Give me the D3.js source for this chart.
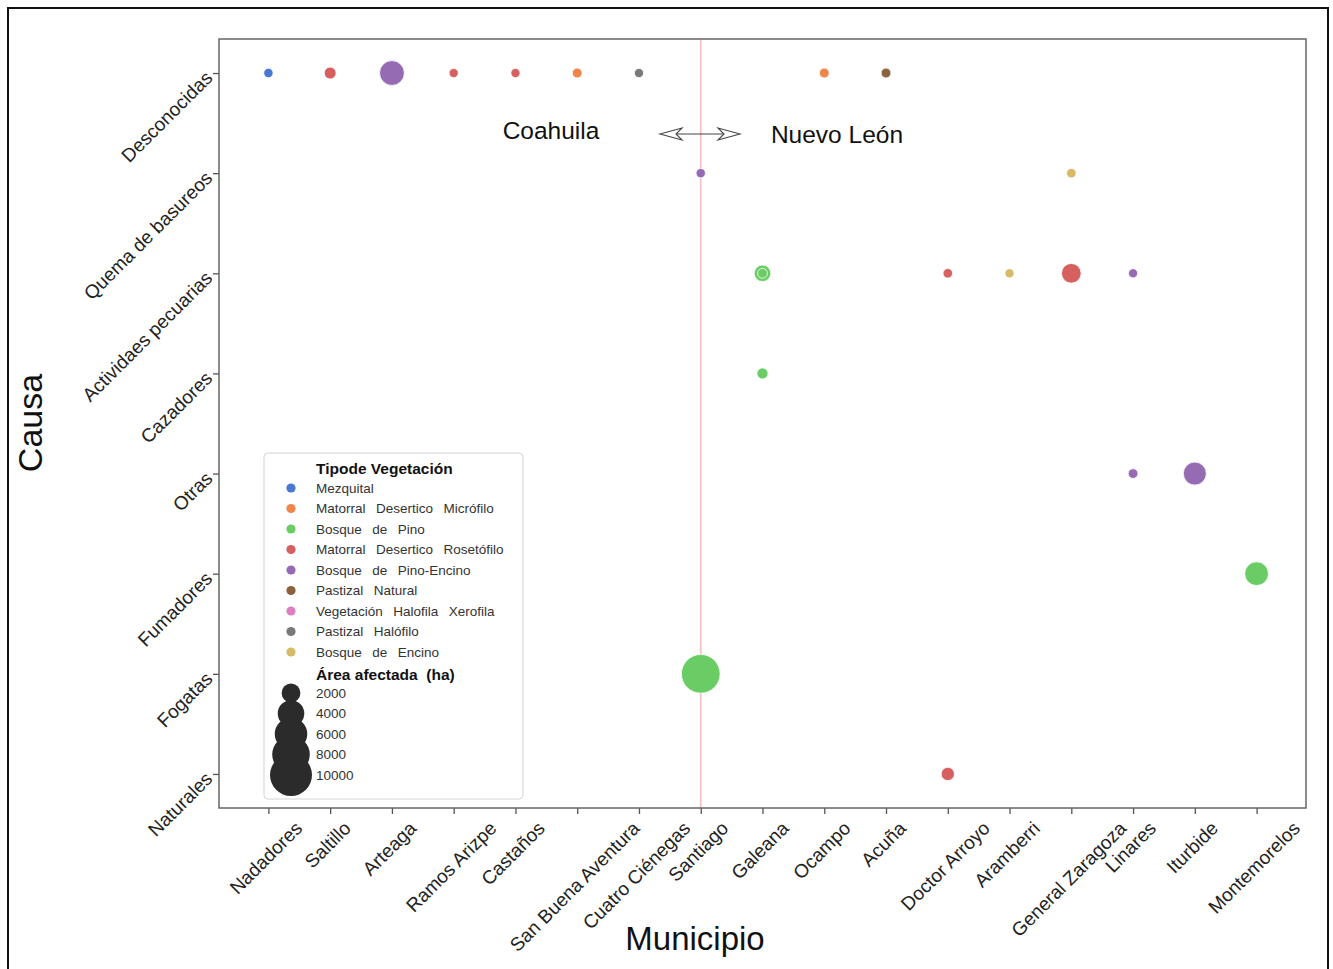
<!DOCTYPE html>
<html>
<head>
<meta charset="utf-8">
<script src="https://cdn.jsdelivr.net/npm/d3@7"></script>
<style>
  html, body { margin: 0; padding: 0; background: #fff; }
  svg text { font-family: "Liberation Sans", Arial, Helvetica, sans-serif; }
</style>
</head>
<body>
<svg id="chart" width="1333" height="969"></svg>
<script>
// ---------- DATA ----------
const municipios = ["Nadadores", "Saltillo", "Arteaga", "Ramos Arizpe", "Castaños", "San Buena Aventura",
  "Cuatro Ciénegas", "Santiago", "Galeana", "Ocampo", "Acuña", "Doctor Arroyo", "Aramberri",
  "General Zaragoza", "Linares", "Iturbide", "Montemorelos"];
const causas = ["Desconocidas", "Quema de basureos", "Actividaes pecuarias", "Cazadores", "Otras",
  "Fumadores", "Fogatas", "Naturales"];
const vegetacion = ["Mezquital", "Matorral  Desertico  Micrófilo", "Bosque  de  Pino",
  "Matorral  Desertico  Rosetófilo", "Bosque  de  Pino-Encino", "Pastizal  Natural",
  "Vegetación  Halofila  Xerofila", "Pastizal  Halófilo", "Bosque  de  Encino"];
const vegColors = ["#4878d0", "#ee854a", "#6acc64", "#d65f5f", "#956cb4", "#8c613c", "#dc7ec0", "#797979", "#d5bb67"];
const sizeLegend = [2000, 4000, 6000, 8000, 10000];

// each fire record: municipio, causa, vegetation index, area (ha)
const ptMunicipio = ["Nadadores", "Saltillo", "Arteaga", "Ramos Arizpe", "Castaños", "San Buena Aventura",
  "Cuatro Ciénegas", "Ocampo", "Acuña",
  "Santiago", "General Zaragoza",
  "Galeana", "Galeana", "Doctor Arroyo", "Aramberri", "General Zaragoza", "Linares",
  "Galeana",
  "Linares", "Iturbide",
  "Montemorelos",
  "Santiago",
  "Doctor Arroyo"];
const ptCausa = ["Desconocidas", "Desconocidas", "Desconocidas", "Desconocidas", "Desconocidas", "Desconocidas",
  "Desconocidas", "Desconocidas", "Desconocidas",
  "Quema de basureos", "Quema de basureos",
  "Actividaes pecuarias", "Actividaes pecuarias", "Actividaes pecuarias", "Actividaes pecuarias", "Actividaes pecuarias", "Actividaes pecuarias",
  "Cazadores",
  "Otras", "Otras",
  "Fumadores",
  "Fogatas",
  "Naturales"];
const ptVeg = [0, 3, 4, 3, 3, 1,
  7, 1, 5,
  4, 8,
  2, 2, 3, 8, 3, 4,
  2,
  4, 4,
  2,
  2,
  3];
const ptArea = [500, 800, 3500, 480, 480, 550,
  480, 550, 550,
  500, 520,
  1550, 550, 520, 480, 2200, 480,
  700,
  540, 3000,
  3200,
  8500,
  1000];

// ---------- LAYOUT ----------
const svg = d3.select("#chart");
const plot = { left: 219, right: 1306, top: 39, bottom: 808 };

// outer frame
svg.append("rect").attr("x", 8).attr("y", 8).attr("width", 1320).attr("height", 975)
  .attr("fill", "none").attr("stroke", "#111").attr("stroke-width", 2);

const x = d3.scalePoint().domain(municipios).range([plot.left, plot.right]).padding(0.8);
const y = d3.scalePoint().domain(causas).range([plot.top, plot.bottom]).padding(0.34);
const r = d3.scaleSqrt().domain([0, 10000]).range([0, 21]);
const color = d3.scaleOrdinal().domain(d3.range(vegetacion.length)).range(vegColors);

// axes (ticks)
const xAxis = svg.append("g").attr("transform", `translate(0,${plot.bottom})`)
  .call(d3.axisBottom(x).tickSize(6).tickFormat(""));
const yAxis = svg.append("g").attr("transform", `translate(${plot.left},0)`)
  .call(d3.axisLeft(y).tickSize(6).tickFormat(""));
[xAxis, yAxis].forEach(g => {
  g.select(".domain").remove();
  g.selectAll(".tick line").attr("stroke", "#555").attr("stroke-width", 1.3);
});

// x tick labels: rotated 45deg, bbox centred on tick, top just below axis
const xLabelTop = plot.bottom + 11;
const fs = 19;
xAxis.selectAll(".tick").each(function(d) {
  const t = d3.select(this).append("text")
    .attr("fill", "#222").attr("font-size", fs)
    .attr("text-anchor", "middle").attr("dominant-baseline", "central")
    .text(d);
  const L = t.node().getComputedTextLength();
  const half = (L + fs * 0.9) * Math.SQRT1_2 / 2;
  t.attr("transform", `translate(-3,${xLabelTop - plot.bottom + half}) rotate(-45)`);
});

// y tick labels: anchored at right end, rotated 45deg
yAxis.selectAll(".tick").append("text")
  .attr("fill", "#222").attr("font-size", fs)
  .attr("text-anchor", "end").attr("dominant-baseline", "central")
  .attr("transform", "translate(-10,1) rotate(-45)")
  .text(d => d);

// axis titles
svg.append("text").attr("x", 695).attr("y", 950).attr("text-anchor", "middle")
  .attr("font-size", 33).attr("fill", "#111").text("Municipio");
svg.append("text").attr("transform", "translate(42,423) rotate(-90)").attr("text-anchor", "middle")
  .attr("font-size", 34).attr("fill", "#111").text("Causa");

// vertical separator
svg.append("line").attr("x1", x("Santiago")).attr("x2", x("Santiago"))
  .attr("y1", plot.top).attr("y2", plot.bottom)
  .attr("stroke", "#f7c2c2").attr("stroke-width", 1.8);

// annotations
svg.append("text").attr("x", 551).attr("y", 139).attr("text-anchor", "middle")
  .attr("font-size", 24.5).attr("fill", "#111").text("Coahuila");
svg.append("text").attr("x", 837).attr("y", 143).attr("text-anchor", "middle")
  .attr("font-size", 24.5).attr("fill", "#111").text("Nuevo León");
const ay = 134, ax1 = 660, ax2 = 740;
svg.append("line").attr("x1", ax1 + 4).attr("x2", ax2 - 4).attr("y1", ay).attr("y2", ay)
  .attr("stroke", "#444").attr("stroke-width", 1.2);
svg.append("path").attr("d", `M${ax1},${ay} L${ax1 + 22},${ay - 6} L${ax1 + 16},${ay} L${ax1 + 22},${ay + 6} Z`)
  .attr("fill", "#fff").attr("stroke", "#444").attr("stroke-width", 1.1);
svg.append("path").attr("d", `M${ax2},${ay} L${ax2 - 22},${ay - 6} L${ax2 - 16},${ay} L${ax2 - 22},${ay + 6} Z`)
  .attr("fill", "#fff").attr("stroke", "#444").attr("stroke-width", 1.1);

// points
const pts = ptArea.map((a, i) => ({ m: ptMunicipio[i], c: ptCausa[i], v: ptVeg[i], a }));
svg.append("g").selectAll("circle").data(pts).join("circle")
  .attr("cx", d => x(d.m)).attr("cy", d => y(d.c)).attr("r", d => r(d.a))
  .attr("fill", d => color(d.v)).attr("stroke", "#fff").attr("stroke-width", 0.8);

// plot frame
svg.append("rect").attr("x", plot.left).attr("y", plot.top)
  .attr("width", plot.right - plot.left).attr("height", plot.bottom - plot.top)
  .attr("fill", "none").attr("stroke", "#666").attr("stroke-width", 1.5);

// legend
const lg = svg.append("g");
lg.append("rect").attr("x", 264).attr("y", 453).attr("width", 259).attr("height", 346).attr("rx", 4)
  .attr("fill", "#fff").attr("fill-opacity", 0.85).attr("stroke", "#d4d4d4").attr("stroke-width", 1);
lg.append("text").attr("x", 316).attr("y", 474).attr("font-size", 15.5).attr("font-weight", "bold")
  .attr("fill", "#111").text("Tipode Vegetación");
const rowY = d3.scaleLinear().domain([0, 1]).range([488, 508.5]);
vegetacion.forEach((v, i) => {
  lg.append("circle").attr("cx", 291).attr("cy", rowY(i)).attr("r", 4.6).attr("fill", vegColors[i]);
  lg.append("text").attr("x", 316).attr("y", rowY(i)).attr("dominant-baseline", "central")
    .attr("font-size", 13.5).attr("fill", "#333").style("white-space", "pre")
    .attr("word-spacing", 1.5).text(v);
});
lg.append("text").attr("x", 316).attr("y", 680).attr("font-size", 15.5).attr("font-weight", "bold")
  .attr("fill", "#111").style("white-space", "pre").text("Área afectada  (ha)");
const sizeY = d3.scaleLinear().domain([0, 1]).range([693, 713.5]);
sizeLegend.forEach((s, i) => {
  lg.append("circle").attr("cx", 291).attr("cy", sizeY(i)).attr("r", r(s)).attr("fill", "#2b2b2b");
});
sizeLegend.forEach((s, i) => {
  lg.append("text").attr("x", 316).attr("y", sizeY(i)).attr("dominant-baseline", "central")
    .attr("font-size", 13.5).attr("fill", "#333").text(s);
});
</script>
</body>
</html>
